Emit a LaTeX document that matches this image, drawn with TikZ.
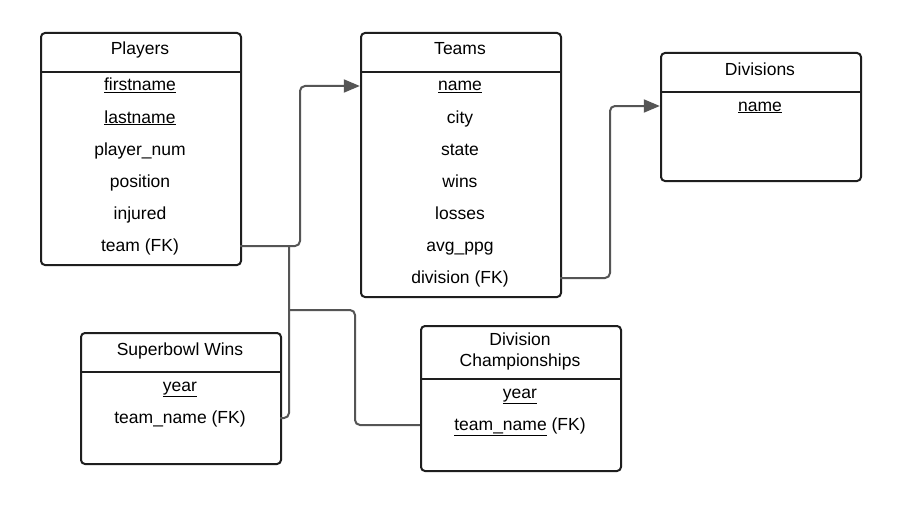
\documentclass[tikz,border=0pt]{standalone}
\usepackage{fontspec}
\setmainfont{Liberation Sans}
\usetikzlibrary{arrows.meta,positioning}
\tikzset{>={Triangle[width=13pt,length=16pt]}}
\definecolor{linkgray}{HTML}{555555}
\definecolor{boxline}{HTML}{1E1E1E}
\newcommand{\KEY}[1]{\underline{#1}}

\begin{document}
\begin{tikzpicture}[x=1pt,y=-1pt,
  table/.style={draw=boxline,line width=2pt,rounded corners=4pt,
    minimum width=200pt,inner sep=0pt,anchor=north west},
  rule/.style={draw=boxline,line width=2pt},
  cell/.style={minimum width=200pt,inner sep=0pt,align=center,
    font=\fontsize{17.5}{21}\selectfont},
  row/.style={cell,text height=13pt,text depth=3pt},
  link/.style={draw=linkgray,line width=2pt,rounded corners=5pt}]

  \useasboundingbox (0,0) rectangle (900,511);
  \fill[white] (0,0) rectangle (900,511);

  %% Players
  \node[table,minimum height=232pt] (players) at (40,32) {};
  \draw[rule] (players.north west) ++(0,40) -- ++(200,0);
  \node[row] (phead) at (140,50) {Players};
  \foreach \y/\name/\txt in {86/pfirst/\KEY{firstname},118/plast/\KEY{lastname},
      150/pnum/player\_num,182/ppos/position,214/pinj/injured,246/pteam/team (FK)}
    \node[row] (\name) at (140,\y) {\txt};

  %% Teams
  \node[table,minimum height=264pt] (teams) at (360,32) {};
  \draw[rule] (teams.north west) ++(0,40) -- ++(200,0);
  \node[row] (thead) at (460,50) {Teams};
  \foreach \y/\name/\txt in {86/tname/\KEY{name},118/tcity/city,150/tstate/state,
      182/twins/wins,214/tloss/losses,246/tppg/avg\_ppg,278/tdiv/division (FK)}
    \node[row] (\name) at (460,\y) {\txt};

  %% Divisions
  \node[table,minimum height=128pt] (divisions) at (660,52) {};
  \draw[rule] (divisions.north west) ++(0,40) -- ++(200,0);
  \node[row] (dhead) at (760,70) {Divisions};
  \node[row] (dname) at (760,106) {\KEY{name}};

  %% Superbowl Wins
  \node[table,minimum height=131pt] (superbowl) at (80,332) {};
  \draw[rule] (superbowl.north west) ++(0,40) -- ++(200,0);
  \node[row] (shead) at (180,350) {Superbowl Wins};
  \node[row] (syear) at (180,386) {\KEY{year}};
  \node[row] (steam) at (180,418) {team\_name (FK)};

  %% Division Championships
  \node[table,minimum height=145pt] (champs) at (420,325) {};
  \draw[rule] (champs.north west) ++(0,54) -- ++(200,0);
  \node[cell] (chead) at (520,351) {Division\\Championships};
  \node[row] (cyear) at (520,393) {\KEY{year}};
  \node[row] (cteam) at (520,425) {\KEY{team\_name} (FK)};

  %% connectors
  \coordinate (pbend) at (300,166);
  \coordinate (join) at (289,246);
  \coordinate (cbend) at (355,310);
  \coordinate (dbend) at (610,190);

  \draw[link,->] (pteam.east) -| (pbend) |- (tname.west); %% players -> teams
  \draw[link] (steam.east) -| (join); %% superbowl -> players line
  \draw[link] (cteam.west) -| (cbend) -- (cbend -| join); %% champs -> line
  \draw[link,->] (tdiv.east) -| (dbend) |- (dname.west); %% teams -> divisions

\end{tikzpicture}
\end{document}
